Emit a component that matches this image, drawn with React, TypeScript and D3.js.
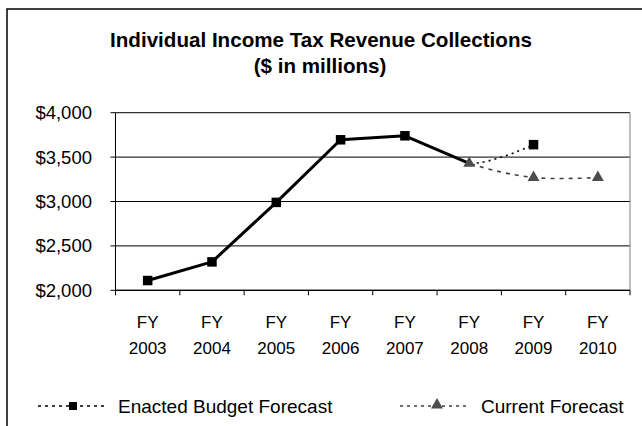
import React from "react";
import * as d3 from "d3";

// Fiscal years on the category axis
const years = ["2003", "2004", "2005", "2006", "2007", "2008", "2009", "2010"];

// Actual collections ($ millions), FY2003–FY2008
const actualYears = ["2003", "2004", "2005", "2006", "2007", "2008"];
const actualValues = [2110, 2320, 2990, 3695, 3740, 3430];

// Forecast series, anchored on the last two actual years
const enactedYears = ["2007", "2008", "2009"];
const enactedValues = [3740, 3430, 3640];
const currentYears = ["2007", "2008", "2009", "2010"];
const currentValues = [3740, 3430, 3270, 3270];

const yTicks = [2000, 2500, 3000, 3500, 4000];

const W = 642;
const H = 426;
const FONT = "'Liberation Sans', Arial, Helvetica, sans-serif";

export default function App() {
  const left = 115.5;
  const right = 630;
  const top = 112.7;
  const bottom = 290.3;

  const x = d3.scaleBand<string>().domain(years).range([left, right]).padding(0);
  const cx = (yr: string) => (x(yr) as number) + x.bandwidth() / 2;
  const y = d3.scaleLinear().domain([2000, 4000]).range([bottom, top]);
  const fmt = (v: number) => "$" + d3.format(",")(v);

  const actualPts: [number, number][] = actualYears.map((yr, i) => [cx(yr), y(actualValues[i])]);
  const enactedPts: [number, number][] = enactedYears.map((yr, i) => [cx(yr), y(enactedValues[i])]);
  const currentPts: [number, number][] = currentYears.map((yr, i) => [cx(yr), y(currentValues[i])]);

  const straight = d3.line().curve(d3.curveLinear);
  const smooth = d3.line().curve(d3.curveCatmullRom.alpha(0.5));

  const sq = 9.5;
  const tri = d3.symbol().type(d3.symbolTriangle).size(62)();
  const forecastStart = cx("2008");

  const boundaries = d3.range(years.length + 1).map((i) => left + i * x.bandwidth());

  return (
    <svg
      width={W}
      height={H}
      style={{ position: "absolute", left: 0, top: 0, background: "#fff" }}
      fontFamily={FONT}
    >
      <rect x={0} y={0} width={W} height={H} fill="#fff" />
      {/* Chart frame */}
      <rect x={7} y={9} width={W + 10} height={H + 10} fill="none" stroke="#000" strokeWidth={1.5} />

      <text x={321} y={46.5} textAnchor="middle" fontWeight="bold" fontSize={20.6}>
        Individual Income Tax Revenue Collections
      </text>
      <text x={320} y={72.5} textAnchor="middle" fontWeight="bold" fontSize={20.6}>
        ($ in millions)
      </text>

      <defs>
        <clipPath id="forecastClip">
          <rect x={forecastStart} y={top - 20} width={right - forecastStart + 20} height={bottom - top + 40} />
        </clipPath>
      </defs>

      {/* Gridlines */}
      {yTicks.map((t) => (
        <line key={t} x1={left} x2={right} y1={y(t)} y2={y(t)} stroke="#000" strokeWidth={1} />
      ))}
      {/* Plot border right */}
      <line x1={right} x2={right} y1={top} y2={bottom} stroke="#808080" strokeWidth={1} />

      {/* Y axis */}
      <line x1={left} x2={left} y1={top} y2={bottom} stroke="#000" strokeWidth={1} />
      {yTicks.map((t) => (
        <g key={"yt" + t}>
          <line x1={left - 5} x2={left} y1={y(t)} y2={y(t)} stroke="#000" />
          <text x={92} y={y(t)} dy="0.35em" textAnchor="end" fontSize={18.5}>
            {fmt(t)}
          </text>
        </g>
      ))}

      {/* X axis */}
      <line x1={left} x2={right} y1={bottom} y2={bottom} stroke="#000" strokeWidth={1.2} />
      {boundaries.map((b, i) => (
        <line key={"xt" + i} x1={b} x2={b} y1={bottom} y2={bottom + 5} stroke="#000" />
      ))}
      {years.map((yr) => (
        <g key={"xl" + yr}>
          <text x={cx(yr)} y={328} textAnchor="middle" fontSize={17}>FY</text>
          <text x={cx(yr)} y={354} textAnchor="middle" fontSize={17}>{yr}</text>
        </g>
      ))}

      {/* Forecast curves */}
      <g clipPath="url(#forecastClip)">
        <path d={smooth(enactedPts) as string} fill="none" stroke="#000" strokeWidth={1.6} strokeDasharray="2,4" />
        <path d={smooth(currentPts) as string} fill="none" stroke="#404040" strokeWidth={1.6} strokeDasharray="4,5" />
      </g>

      {/* Actual collections */}
      <path d={straight(actualPts) as string} fill="none" stroke="#000" strokeWidth={3} strokeLinejoin="round" />
      {actualPts.slice(0, -1).map(([px, py], i) => (
        <rect key={"a" + i} x={px - sq / 2} y={py - sq / 2} width={sq} height={sq} fill="#000" />
      ))}

      {/* Forecast markers */}
      {enactedPts.slice(2).map(([px, py], i) => (
        <rect key={"e" + i} x={px - sq / 2} y={py - sq / 2} width={sq} height={sq} fill="#000" />
      ))}
      {currentPts.slice(1).map(([px, py], i) => (
        <path key={"c" + i} d={tri as string} transform={`translate(${px},${py})`} fill="#4d4d4d" />
      ))}

      {/* Legend */}
      <g>
        <line x1={38} x2={108} y1={406} y2={406} stroke="#000" strokeWidth={1.6} strokeDasharray="3,4" />
        <rect x={73 - 4} y={406 - 4} width={8} height={8} fill="#000" />
        <text x={118} y={406} dy="0.35em" fontSize={19}>Enacted Budget Forecast</text>

        <line x1={400} x2={468} y1={406} y2={406} stroke="#404040" strokeWidth={1.6} strokeDasharray="3,4" />
        <path d={tri as string} transform="translate(437,405)" fill="#4d4d4d" />
        <text x={481} y={406} dy="0.35em" fontSize={19}>Current Forecast</text>
      </g>
    </svg>
  );
}
